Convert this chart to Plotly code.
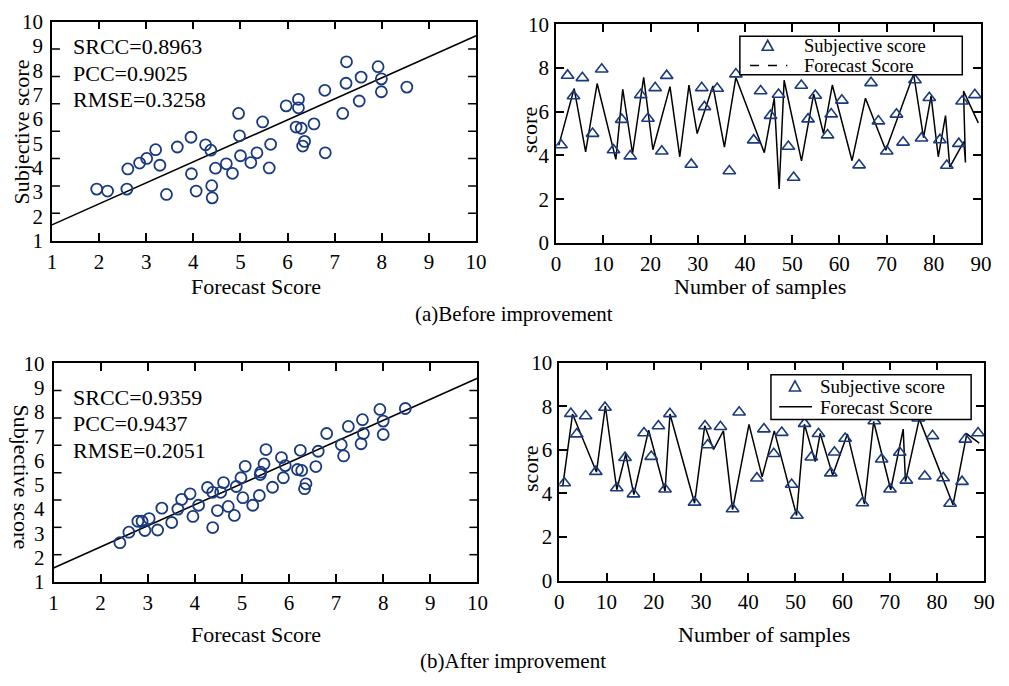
import plotly.graph_objects as go

SERIF = "Liberation Serif"
NAVY = "#1a3a80"
W, H = 1009, 686

# ---- scatter panels: forecast score vs subjective score ----
fc_before = [1.95, 2.18, 2.59, 2.61, 2.86, 3.01, 3.20, 3.29, 3.43, 3.66, 3.95, 3.96,
             4.06, 4.26, 4.37, 4.39, 4.40, 4.47, 4.70, 4.83, 4.96, 4.98, 5.00, 5.22,
             5.35, 5.47, 5.61, 5.64, 5.97, 6.18, 6.23, 6.23, 6.29, 6.36, 6.32, 6.56,
             6.79, 6.80, 7.17, 7.24, 7.25, 7.52, 7.56, 7.92, 7.99, 7.99, 8.53]
subj_before = [3.12, 3.04, 3.12, 3.95, 4.19, 4.38, 4.74, 4.10, 2.90, 4.85, 5.25, 3.75,
               3.04, 4.94, 4.72, 3.26, 2.76, 3.98, 4.16, 3.77, 6.23, 5.31, 4.49, 4.21,
               4.61, 5.88, 3.99, 4.96, 6.54, 5.67, 6.81, 6.46, 5.62, 5.08, 4.89, 5.80,
               7.18, 4.61, 6.23, 7.47, 8.35, 6.74, 7.72, 8.15, 7.65, 7.12, 7.31]

fc_after = [2.41, 2.60, 2.79, 2.88, 2.94, 3.03, 3.21, 3.30, 3.51, 3.64, 3.72, 3.90,
            3.96, 4.08, 4.27, 4.38, 4.38, 4.48, 4.55, 4.61, 4.71, 4.84, 4.88, 4.98,
            5.02, 5.07, 5.23, 5.37, 5.39, 5.40, 5.47, 5.51, 5.65, 5.84, 5.88, 5.92,
            6.18, 6.27, 6.24, 6.36, 6.33, 6.57, 6.62, 6.80, 7.11, 7.16, 7.26, 7.53,
            7.56, 7.58, 7.93, 8.00, 8.00, 8.47]
subj_after = [2.62, 3.05, 3.50, 3.50, 3.12, 3.61, 3.14, 4.04, 3.45, 4.00, 4.40, 4.63,
              3.70, 4.16, 4.89, 3.24, 4.69, 3.94, 4.69, 5.09, 4.11, 3.74, 4.93, 5.29,
              4.47, 5.76, 4.16, 4.56, 5.42, 5.52, 5.86, 6.45, 4.90, 6.12, 5.29, 5.79,
              5.63, 5.59, 6.42, 5.04, 4.84, 5.75, 6.38, 7.11, 6.65, 6.19, 7.40, 6.69,
              7.68, 7.11, 8.10, 7.62, 7.07, 8.14]

# fitted lines (slope, intercept)
fit_before = (0.863, 0.787)
fit_after = (0.867, 0.713)

stats_before = ["SRCC=0.8963", "PCC=0.9025", "RMSE=0.3258"]
stats_after = ["SRCC=0.9359", "PCC=0.9437", "RMSE=0.2051"]

# ---- per-sample panels ----
sample_idx = [1.04, 2.43, 3.68, 5.56, 7.72, 9.66, 12.16, 13.90, 15.70, 17.93, 19.46, 20.98,
              22.38, 23.42, 28.63, 30.85, 31.42, 34.12, 36.69, 38.08, 41.84, 43.33, 45.42,
              47.11, 49.20, 50.32, 51.94, 53.37, 54.90, 57.50, 58.27, 60.53, 64.18, 66.71,
              68.27, 70.04, 72.10, 73.50, 76.02, 77.41, 79.05, 81.30, 82.76, 85.30, 86.00,
              88.70]
subjective = [4.48, 7.66, 6.72, 7.55, 5.00, 7.94, 4.25, 5.64, 3.97, 6.77, 5.69, 7.09,
              4.19, 7.65, 3.59, 7.09, 6.22, 7.06, 3.29, 7.72, 4.70, 6.95, 5.82, 6.79,
              4.41, 2.99, 7.20, 5.66, 6.74, 4.93, 5.89, 6.52, 3.56, 7.32, 5.57, 4.19,
              5.88, 4.60, 7.45, 4.79, 6.64, 4.71, 3.54, 4.54, 6.48, 6.77]

fcst_before_x = [0.56, 3.82, 6.25, 8.69, 12.65, 14.11, 16.19, 18.55, 20.50, 24.12, 26.20,
                 28.14, 29.88, 33.21, 35.65, 38.08, 44.10, 46.21, 47.25, 48.30, 51.98,
                 54.56, 56.64, 58.51, 62.69, 65.53, 69.84, 75.74, 77.83, 79.43, 80.95,
                 82.49, 83.39, 86.37, 86.72, 86.30, 89.43]
fcst_before_y = [4.46, 7.06, 4.16, 7.29, 3.82, 7.03, 4.09, 7.57, 4.26, 7.15, 3.94,
                 7.22, 5.00, 7.18, 4.38, 7.57, 4.13, 6.62, 2.47, 7.44, 3.75,
                 6.81, 5.00, 7.22, 3.76, 6.62, 4.24, 7.72, 4.82, 6.71, 3.94,
                 5.82, 3.47, 4.63, 3.68, 6.95, 5.49]

fcst_after_x = [0.71, 2.79, 7.86, 9.74, 12.17, 14.05, 15.78, 18.91, 22.39, 23.43, 28.64,
                30.79, 32.67, 34.75, 36.69, 40.17, 42.95, 45.53, 50.25, 51.91, 54.20,
                55.25, 57.89, 61.02, 64.63, 66.58, 70.19, 72.84, 73.32, 76.24, 83.39,
                86.31, 88.95]
fcst_after_y = [4.32, 7.64, 4.98, 8.01, 4.17, 5.80, 3.95, 6.90, 4.10, 7.64, 3.55,
                7.10, 6.02, 6.87, 3.26, 7.17, 4.76, 6.87, 2.99, 7.17, 5.46,
                6.75, 4.84, 6.73, 3.51, 7.30, 4.17, 6.95, 4.54, 7.42, 3.48,
                6.73, 6.31]

# panel frames in pixels: (left, right), (top, bottom)
frames = {
    1: ((47.7, 478.7), (10.0, 237.0)),
    2: ((560.0, 991.7), (12.7, 239.3)),
    3: ((49.3, 480.0), (364.0, 590.7)),
    4: ((563.3, 995.0), (363.3, 589.3)),
}


def px(x):
    return x / W


def py(y):
    return 1 - y / H


fig = go.Figure()

tickfont = dict(family=SERIF, size=21, color="black")
axis_common = dict(showline=True, linecolor="black", linewidth=1.6, mirror="allticks",
                   ticks="inside", ticklen=8, tickwidth=1.5, tickcolor="black",
                   showgrid=False, zeroline=False, tickfont=tickfont, fixedrange=True)

layout = dict(width=W, height=H, margin=dict(l=0, r=0, t=0, b=0), autosize=False,
              paper_bgcolor="white", plot_bgcolor="white", showlegend=False,
              font=dict(family=SERIF, size=21, color="black"))

for i, ((l, r), (t, b)) in frames.items():
    xs = "xaxis" if i == 1 else f"xaxis{i}"
    ys = "yaxis" if i == 1 else f"yaxis{i}"
    xa = dict(axis_common, domain=[px(l), px(r)], anchor=f"y{'' if i == 1 else i}")
    ya = dict(axis_common, domain=[py(b), py(t)], anchor=f"x{'' if i == 1 else i}")
    if i in (1, 3):
        xa.update(range=[1, 10], tickvals=list(range(1, 11)), ticklabelstandoff=1)
        ya.update(range=[1, 10], tickvals=list(range(1, 11)), ticks="", ticklabelstandoff=3)
    else:
        xa.update(range=[0, 90], tickvals=list(range(0, 91, 10)), ticklabelstandoff=1)
        ya.update(range=[0, 10], tickvals=list(range(0, 11, 2)), ticklabelstandoff=1)
    layout[xs] = xa
    layout[ys] = ya

fig.update_layout(**layout)

# scatter panels
for (xa, ya, fx, sy, fit) in [("x", "y", fc_before, subj_before, fit_before),
                              ("x3", "y3", fc_after, subj_after, fit_after)]:
    fig.add_trace(go.Scatter(x=[1, 10], y=[fit[0] * 1 + fit[1], fit[0] * 10 + fit[1]],
                             mode="lines", line=dict(color="black", width=1.6),
                             xaxis=xa, yaxis=ya, hoverinfo="skip"))
    fig.add_trace(go.Scatter(x=fx, y=sy, mode="markers",
                             marker=dict(symbol="circle-open", size=11, color=NAVY,
                                         line=dict(width=1.8, color=NAVY)),
                             xaxis=xa, yaxis=ya))

# per-sample panels
for (xa, ya, lx, ly) in [("x2", "y2", fcst_before_x, fcst_before_y),
                         ("x4", "y4", fcst_after_x, fcst_after_y)]:
    fig.add_trace(go.Scatter(x=lx, y=ly, mode="lines",
                             line=dict(color="black", width=1.5),
                             xaxis=xa, yaxis=ya, name="Forecast Score"))
    fig.add_trace(go.Scatter(x=sample_idx, y=subjective, mode="markers",
                             marker=dict(symbol="triangle-up-open", size=11, color=NAVY,
                                         line=dict(width=1.6, color=NAVY)),
                             xaxis=xa, yaxis=ya, name="Subjective score"))

shapes = []
# inner y tick marks of the scatter panels (eight divisions of the frame)
for yref, xref in (("y", "x"), ("y3", "x3")):
    for k in range(1, 8):
        yv = 1 + 9 * k / 8
        for anchor, (a0, a1) in ((0, (0, 8)), (1, (-8, 0))):
            shapes.append(dict(type="line", xref=f"{xref} domain", yref=yref,
                               xsizemode="pixel", xanchor=anchor, x0=a0, x1=a1,
                               y0=yv, y1=yv, line=dict(color="black", width=1.5)))

annotations = []


def text(x, y, s, size=22, xanchor="center", angle=0):
    annotations.append(dict(x=px(x), y=py(y), xref="paper", yref="paper", text=s,
                            showarrow=False, xanchor=xanchor, yanchor="middle",
                            textangle=angle, borderpad=0,
                            font=dict(family=SERIF, size=size, color="black")))


# statistics
for j, s in enumerate(stats_before):
    text(68, 36 + 27.5 * j, s, xanchor="left")
for j, s in enumerate(stats_after):
    text(68, 399 + 27.5 * j, s, xanchor="left")

# axis titles
text(255, 284, "Forecast Score")
text(767, 284, "Number of samples")
text(255, 645, "Forecast Score")
text(771, 645, "Number of samples")
text(17, 124, "Subjective score", angle=-90)
text(17, 482, "Subjective score", angle=90)
text(533, 123, "score", angle=-90)
text(534, 474, "score", angle=-90)

# captions
text(517, 313, "(a)Before improvement", size=21)
text(516, 673, "(b)After improvement", size=21)


# legends drawn as framed boxes
def legend_box(x0, x1, y0, y1, tri_xy, line_x, line_y, txt_x, txt_y, dash, size):
    shapes.append(dict(type="rect", xref="paper", yref="paper",
                       x0=px(x0), x1=px(x1), y0=py(y1), y1=py(y0),
                       line=dict(color="black", width=1.5), fillcolor="white",
                       layer="above"))
    shapes.append(dict(type="path", xref="paper", yref="paper",
                       xsizemode="pixel", ysizemode="pixel",
                       xanchor=px(tri_xy[0]), yanchor=py(tri_xy[1]),
                       path="M -5.5,-4.5 L 5.5,-4.5 L 0,5.5 Z",
                       line=dict(color=NAVY, width=1.6), layer="above"))
    shapes.append(dict(type="line", xref="paper", yref="paper",
                       x0=px(line_x[0]), x1=px(line_x[1]), y0=py(line_y), y1=py(line_y),
                       line=dict(color="black", width=1.5, dash=dash), layer="above"))
    text(txt_x, txt_y[0], "Subjective score", xanchor="left", size=size)
    text(txt_x, txt_y[1], "Forecast Score", xanchor="left", size=size)


legend_box(746.7, 972.7, 25, 65, (775, 35), (757, 795), 55.5, 811, (35, 56), "dash", 18.5)
legend_box(778.3, 981.7, 376, 422.3, (802.7, 388), (786.7, 820), 409, 827, (388, 410),
           "solid", 19)

fig.update_layout(shapes=shapes, annotations=annotations)
fig.write_html("out.html")
